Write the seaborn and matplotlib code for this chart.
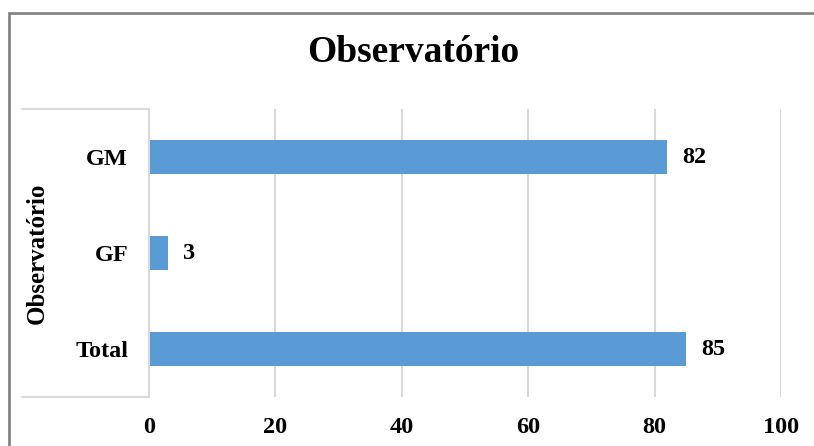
import matplotlib
matplotlib.use("Agg")
import matplotlib.pyplot as plt
import seaborn as sns
import pandas as pd
from matplotlib.lines import Line2D
from matplotlib.patches import Rectangle

# Data
categories = ["GM", "GF", "Total"]
values = [82, 3, 85]
x_ticks = [0, 20, 40, 60, 80, 100]
title = "Observatório"
axis_label = "Observatório"

sns.set_theme(style="white")
plt.rcParams["font.family"] = ["Liberation Serif", "DejaVu Serif"]
plt.rcParams["font.weight"] = "bold"
plt.rcParams["text.color"] = "black"
plt.rcParams["axes.labelcolor"] = "black"
plt.rcParams["xtick.color"] = "black"
plt.rcParams["ytick.color"] = "black"

W, H = 814, 446
fig = plt.figure(figsize=(W / 100, H / 100), dpi=100)
fig.patch.set_facecolor("white")

# Plot area in pixel coordinates
left_px, right_px, top_px, bottom_px = 149, 781, 109, 397
ax = fig.add_axes([left_px / W, 1 - bottom_px / H,
                   (right_px - left_px) / W, (bottom_px - top_px) / H])

df = pd.DataFrame({"cat": categories, "val": values})
sns.barplot(data=df, x="val", y="cat", order=categories, orient="h",
            color="#5B9BD5", width=0.35, saturation=1, linewidth=0, ax=ax)

ax.set_xlim(0, 100)
ax.set_ylim(2.5, -0.5)
ax.set_xticks(x_ticks)
ax.set_xticklabels([str(t) for t in x_ticks])
ax.tick_params(axis="x", length=0, pad=14.5, labelsize=17.5, labelcolor="black")
ax.tick_params(axis="y", length=0, pad=15, labelsize=17.5, labelcolor="black")
for lab in ax.get_xticklabels() + ax.get_yticklabels():
    lab.set_fontweight("bold")

ax.grid(axis="x", color="#D9D9D9", linewidth=1.5)
ax.grid(axis="y", visible=False)
ax.set_axisbelow(True)
for side in ["top", "right", "bottom"]:
    ax.spines[side].set_visible(False)
ax.spines["left"].set_color("#D9D9D9")
ax.spines["left"].set_linewidth(1.5)

ax.set_xlabel("")
ax.set_ylabel(axis_label, fontsize=18, fontweight="bold", color="black")
ax.yaxis.set_label_coords((37 - left_px) / (right_px - left_px), 0.5)
ax.yaxis.label.set_va("center")

# Value labels
ax.bar_label(ax.containers[0], labels=[str(v) for v in values],
             padding=10.5, fontsize=17.5, fontweight="bold", color="black")

# Category-axis frame lines
for y in (top_px, bottom_px):
    fig.add_artist(Line2D([22 / W, left_px / W], [1 - y / H, 1 - y / H],
                          transform=fig.transFigure, color="#D9D9D9", linewidth=1.5))

# Title
fig.text(413 / W, 1 - 52 / H, title, ha="center", va="center",
         fontsize=27, fontweight="bold", color="black")

# Outer chart border
fig.add_artist(Rectangle((9 / W, -0.05), 1.0, 1 - 13 / H + 0.05,
                         transform=fig.transFigure, fill=False,
                         edgecolor="#7F7F7F", linewidth=1.9))

fig.savefig("out.png", dpi=100)
